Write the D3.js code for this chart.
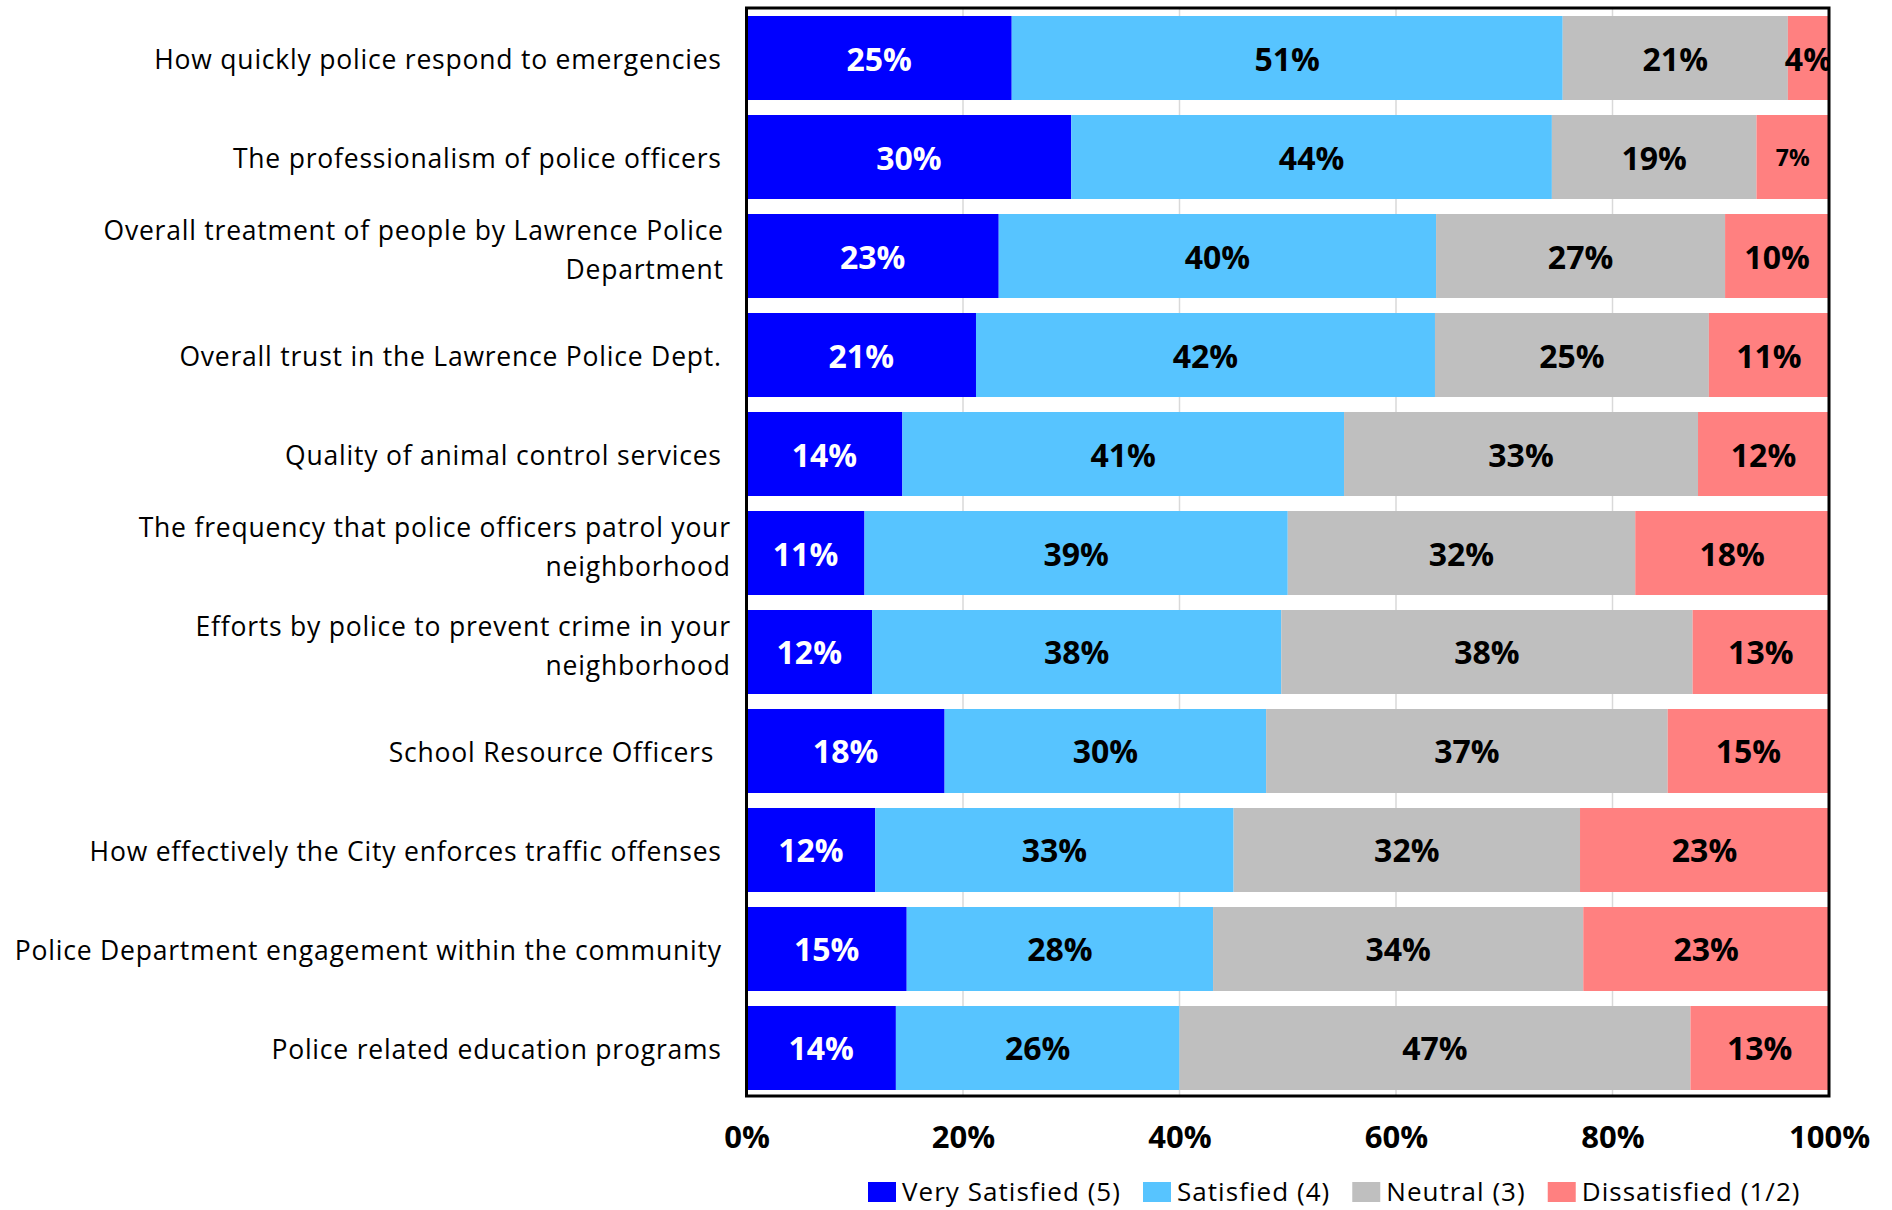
<!DOCTYPE html>
<html>
<head>
<meta charset="utf-8">
<script src="https://cdn.jsdelivr.net/npm/d3@7"></script>
<style>
  html, body { margin: 0; padding: 0; background: #fff; }
  svg { display: block; }
  text { white-space: pre; }
</style>
</head>
<body>
<svg id="chart" width="1892" height="1210"></svg>
<script>
// ---------- data ----------
const categories = [
  "How quickly police respond to emergencies",
  "The professionalism of police officers",
  "Overall treatment of people by Lawrence Police\nDepartment",
  "Overall trust in the Lawrence Police Dept.",
  "Quality of animal control services",
  "The frequency that police officers patrol your\nneighborhood",
  "Efforts by police to prevent crime in your\nneighborhood",
  "School Resource Officers ",
  "How effectively the City enforces traffic offenses",
  "Police Department engagement within the community",
  "Police related education programs"
];
const seriesNames = ["Very Satisfied (5)", "Satisfied (4)", "Neutral (3)", "Dissatisfied (1/2)"];
const verySatisfied = [24.5, 30.0, 23.3, 21.2, 14.4, 10.9, 11.6, 18.3, 11.9, 14.8, 13.8];
const satisfied     = [50.9, 44.4, 40.4, 42.4, 40.8, 39.1, 37.8, 29.7, 33.1, 28.3, 26.2];
const neutral       = [20.8, 18.9, 26.7, 25.3, 32.7, 32.1, 38.0, 37.1, 32.0, 34.2, 47.2];
const dissatisfied  = [3.8, 6.7, 9.6, 11.1, 12.1, 17.9, 12.6, 14.9, 23.0, 22.7, 12.8];
const tickValues = [0, 20, 40, 60, 80, 100];

// ---------- styles ----------
const colors = ["#0000FF", "#57C4FF", "#BFBFBF", "#FF8080"];
const labelColors = ["#FFFFFF", "#000000", "#000000", "#000000"];
const FONT = "'Open Sans', 'Noto Sans', sans-serif";
const smallLabelCells = [[1, 3]];           // [row, series] drawn with smaller text
const labelNudge = { 2: 2, 5: 9, 6: 9 };    // extra right offset (px) of some wrapped labels

const rows = categories.map((c, i) => ({
  cat: c,
  s0: verySatisfied[i], s1: satisfied[i], s2: neutral[i], s3: dissatisfied[i]
}));
const keys = ["s0", "s1", "s2", "s3"];
const stacked = d3.stack().keys(keys)(rows);

const svg = d3.select("#chart");
const plot = { left: 746.5, right: 1829, top: 8, bottom: 1096 };

const x = d3.scaleLinear().domain([0, 100]).range([plot.left, plot.right]);
const y = d3.scaleBand().domain(categories).range([8.5, 1097.5])
  .paddingInner(0.1515).paddingOuter(0.0758);

// clip
svg.append("defs").append("clipPath").attr("id", "plotclip")
  .append("rect").attr("x", plot.left).attr("y", plot.top)
  .attr("width", plot.right - plot.left).attr("height", plot.bottom - plot.top);

// gridlines
svg.append("g").selectAll("line").data(tickValues.slice(1, -1)).join("line")
  .attr("x1", d => x(d)).attr("x2", d => x(d))
  .attr("y1", plot.top).attr("y2", plot.bottom)
  .attr("stroke", "#D9D9D9").attr("stroke-width", 1.5);

// bars
const gBars = svg.append("g").attr("clip-path", "url(#plotclip)");
stacked.forEach((layer, si) => {
  gBars.append("g").attr("fill", colors[si]).selectAll("rect").data(layer).join("rect")
    .attr("x", d => x(d[0]))
    .attr("width", d => x(d[1]) - x(d[0]))
    .attr("y", d => y(d.data.cat))
    .attr("height", y.bandwidth());
});

// bar labels
const gLab = svg.append("g").attr("clip-path", "url(#plotclip)");
stacked.forEach((layer, si) => {
  gLab.append("g").selectAll("text").data(layer).join("text")
    .attr("x", d => (x(d[0]) + x(d[1])) / 2)
    .attr("y", (d, i) => {
      const small = smallLabelCells.some(c => c[0] === i && c[1] === si);
      return y(d.data.cat) + y.bandwidth() / 2 + (small ? 8.5 : 12.5);
    })
    .attr("text-anchor", "middle")
    .attr("font-family", FONT)
    .attr("font-weight", 700)
    .attr("font-size", (d, i) => smallLabelCells.some(c => c[0] === i && c[1] === si) ? 23 : 32)
    .attr("fill", labelColors[si])
    .text(d => Math.round(d[1] - d[0]) + "%");
});

// helper: letter-spacing so that a reference string reaches a target width
function fitSpacing(str, size, weight, target) {
  const t = svg.append("text").attr("font-family", FONT).attr("font-size", size)
    .attr("font-weight", weight).text(str);
  const w = t.node().getComputedTextLength();
  t.remove();
  return (target - w) / str.length;
}

// category labels
const catFont = 26.5;
const catSpacing = fitSpacing("Police Department engagement within the community", catFont, 400, 707);
const lineGap = 39.5;
const gCat = svg.append("g");
categories.forEach((c, ci) => {
  const lines = c.split("\n");
  const cy = y(c) + y.bandwidth() / 2;
  const t = gCat.append("text")
    .attr("font-family", FONT).attr("font-size", catFont).attr("fill", "#000")
    .attr("letter-spacing", catSpacing)
    .attr("text-anchor", "end");
  const xr = 721 + catSpacing + (labelNudge[ci] || 0);
  lines.forEach((ln, li) => {
    const off = (li - (lines.length - 1) / 2) * lineGap + (lines.length > 1 ? -6 : 1);
    t.append("tspan").attr("x", xr).attr("y", cy + off + 0.36 * catFont).text(ln);
  });
});

// x axis tick labels
const xAxis = d3.axisBottom(x).tickValues(tickValues).tickFormat(d => d + "%").tickSize(0).tickPadding(0);
const gx = svg.append("g").attr("transform", `translate(0, ${plot.bottom})`).call(xAxis);
gx.select(".domain").remove();
gx.selectAll("text")
  .attr("font-family", FONT).attr("font-weight", 700).attr("font-size", 31)
  .attr("fill", "#000").attr("dy", null).attr("y", 52);

// frame
svg.append("rect")
  .attr("x", plot.left).attr("y", plot.top)
  .attr("width", plot.right - plot.left).attr("height", plot.bottom - plot.top)
  .attr("fill", "none").attr("stroke", "#000").attr("stroke-width", 3);

// legend
const legFont = 26;
const legSpacing = fitSpacing("Very Satisfied (5)", legFont, 400, 219);
const gLeg = svg.append("g");
let lx = 868;
seriesNames.forEach((name, i) => {
  gLeg.append("rect").attr("x", lx).attr("y", 1182).attr("width", 28).attr("height", 20)
    .attr("fill", colors[i]);
  const t = gLeg.append("text").attr("x", lx + 34).attr("y", 1201)
    .attr("font-family", FONT).attr("font-size", legFont).attr("fill", "#000")
    .attr("letter-spacing", legSpacing).text(name);
  lx += 34 + t.node().getComputedTextLength() + 22;
});
</script>
</body>
</html>
